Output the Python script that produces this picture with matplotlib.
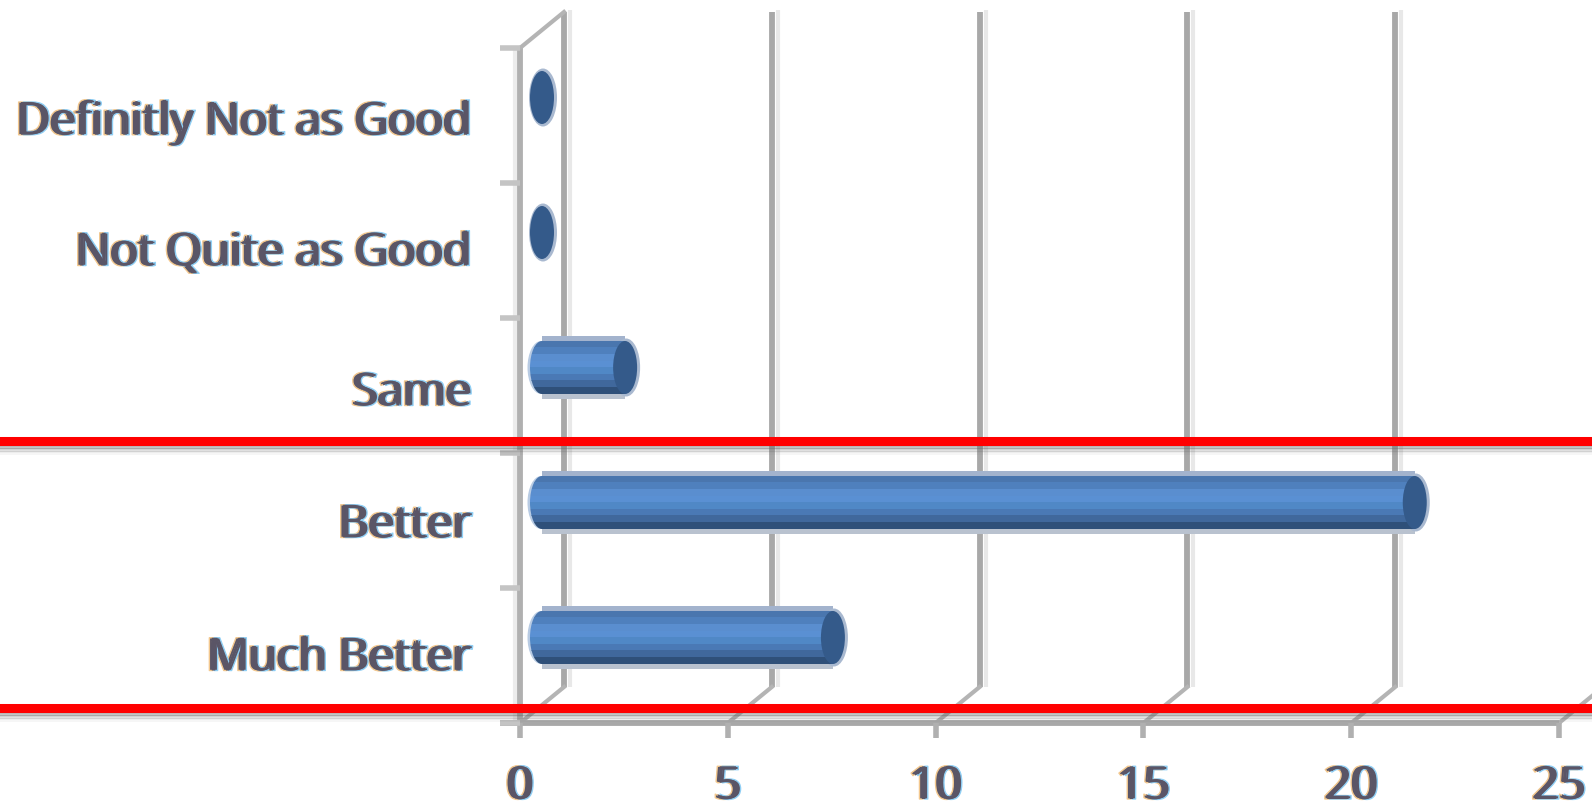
import numpy as np
import matplotlib
matplotlib.use('Agg')
import matplotlib.pyplot as plt
import matplotlib.patheffects as pe
from matplotlib.patches import Ellipse, Rectangle

categorias = ['Much Better', 'Better', 'Same', 'Not Quite as Good', 'Definitly Not as Good']
valores = [7, 21, 2, 0, 0]
ticks_x = [0, 5, 10, 15, 20, 25]
# ajuste vertical de cada etiqueta, en pixeles
ajuste_etiquetas = [3, 5, 8, 3, 7]

ANCHO, ALTO = 1592, 802
PX_X = 41.56      # pixeles por unidad del eje x
PX_Y = 135.0      # pixeles por categoria

# franjas del cilindro, de arriba hacia abajo
franjas = ['#4a76ae', '#4f80bd', '#5a8ecf', '#5a90d3', '#5088c6', '#4a79b5', '#40689c', '#2f5079']
COLOR_TAPA = '#345a8a'
COLOR_GRID = '#a8a8a8'
COLOR_TEXTO = '#5a5566'

fig = plt.figure(figsize=(ANCHO / 100, ALTO / 100), dpi=100)
ax = fig.add_axes([0, 0, 1, 1])
ax.set_xlim(-520 / PX_X, (ANCHO - 520) / PX_X)
ax.set_ylim(-(ALTO - 723) / PX_Y - 0.5, 723 / PX_Y - 0.5)
ax.axis('off')

# desplazamiento de la profundidad 3D
prof_x = 44 / PX_X
prof_y = 36 / PX_Y
y_abajo = -0.5
y_arriba = len(categorias) - 0.5

# pared del fondo y lineas de guia
for t in ticks_x[:-1]:
    ax.plot([t + prof_x + 6 / PX_X] * 2, [y_abajo + prof_y, y_arriba + prof_y + 2 / PX_Y],
            color='#e8e8e8', lw=3, solid_capstyle='butt', zorder=0.9)
    ax.plot([t + prof_x, t + prof_x], [y_abajo + prof_y, y_arriba + prof_y],
            color=COLOR_GRID, lw=4.2, solid_capstyle='butt', zorder=1)
for t in ticks_x:
    ax.plot([t, t + prof_x], [y_abajo, y_abajo + prof_y], color='#b4b4b4', lw=3, zorder=1)

# ejes frontales
ax.plot([-5 / PX_X] * 2, [y_abajo, y_arriba], color='#ececec', lw=3, solid_capstyle='butt', zorder=0.9)
ax.plot([0, 0], [y_abajo, y_arriba], color='#b0b0b0', lw=4.2, solid_capstyle='butt', zorder=1)
ax.plot([-20 / PX_X, ticks_x[-1]], [y_abajo, y_abajo], color=COLOR_GRID, lw=4.2,
        solid_capstyle='butt', zorder=1)
ax.plot([0, prof_x], [y_arriba, y_arriba + prof_y], color='#b4b4b4', lw=3, zorder=1)

# marcas de los ejes
for t in ticks_x:
    ax.plot([t, t], [y_abajo, y_abajo - 15 / PX_Y], color='#b0b0b0', lw=4, solid_capstyle='butt', zorder=1)
for i in range(len(categorias) + 1):
    ax.plot([-20 / PX_X, 0], [i - 0.5, i - 0.5], color='#c4c4c4', lw=4, solid_capstyle='butt', zorder=1)

# barras cilindricas
desp_x = prof_x / 2
desp_y = 18 / PX_Y
radio_x = 12 / PX_X
alto_barra = 53 / PX_Y
halo = 6 / PX_Y
for i, v in enumerate(valores):
    yc = i + desp_y
    x0 = desp_x
    x1 = desp_x + v
    # borde claro alrededor de la tapa
    ax.add_patch(Ellipse((x1 + 1 / PX_X, yc), 2 * radio_x + 4 / PX_X, alto_barra + 5 / PX_Y,
                         fc='#a9b9d0', ec='none', zorder=2.9))
    if v > 0:
        # halo claro arriba y abajo del cilindro
        ax.add_patch(Rectangle((x0, yc + alto_barra / 2 - 1 / PX_Y), v, halo, color='#a3b3cd', lw=0, zorder=2))
        ax.add_patch(Rectangle((x0, yc - alto_barra / 2 - halo + 1 / PX_Y), v, halo, color='#b9c2cf', lw=0, zorder=2))
        extremo = Ellipse((x0, yc), 2 * radio_x, alto_barra, fc='none', ec='none', zorder=3)
        ax.add_patch(extremo)
        ax.add_patch(Ellipse((x0 - 1 / PX_X, yc), 2 * radio_x + 3 / PX_X, alto_barra,
                             fc='#b8cbe3', ec='none', zorder=2.9))
        h = alto_barra / len(franjas)
        for j, c in enumerate(franjas):
            yf = yc + alto_barra / 2 - (j + 1) * h
            ax.add_patch(Rectangle((x0, yf), v, h + 0.3 / PX_Y, color=c, lw=0, zorder=3.1))
            e = ax.add_patch(Rectangle((x0 - radio_x, yf), radio_x, h + 0.3 / PX_Y, color=c, lw=0, zorder=3.1))
            e.set_clip_path(extremo)
    ax.add_patch(Ellipse((x1, yc), 2 * radio_x, alto_barra, fc=COLOR_TAPA, ec='none', zorder=4))

# lineas rojas con su sombra
for yp in [441.5, 708]:
    yd = ax.get_ylim()[0] + (ALTO - yp) / PX_Y
    for k, a in enumerate([0.5, 0.42, 0.32, 0.22, 0.13, 0.06]):
        ax.axhline(yd - (5 + k * 1.5) / PX_Y, color='#666666', alpha=a, lw=1.3, zorder=5)
    ax.axhline(yd, color='#ff0000', lw=6.5, zorder=6)

# franjas de color en los bordes de las letras
borde_texto = [
    pe.Stroke(linewidth=1.0, foreground='#f3c88e', offset=(-1.7, 0)),
    pe.Stroke(linewidth=1.0, foreground='#8fcff5', offset=(1.7, 0)),
    pe.Normal(),
]

# etiquetas
for i, nombre in enumerate(categorias):
    ax.text(-49 / PX_X, i - ajuste_etiquetas[i] / PX_Y, nombre, ha='right', va='center', fontsize=33,
            family='Open Sans', color=COLOR_TEXTO, zorder=7, path_effects=borde_texto)
for t in ticks_x:
    ax.text(t, y_abajo - 76 / PX_Y, str(t), ha='center', va='baseline', fontsize=33,
            family='Open Sans', color=COLOR_TEXTO, zorder=7, path_effects=borde_texto)

fig.savefig('out.png', dpi=100, facecolor='white')
